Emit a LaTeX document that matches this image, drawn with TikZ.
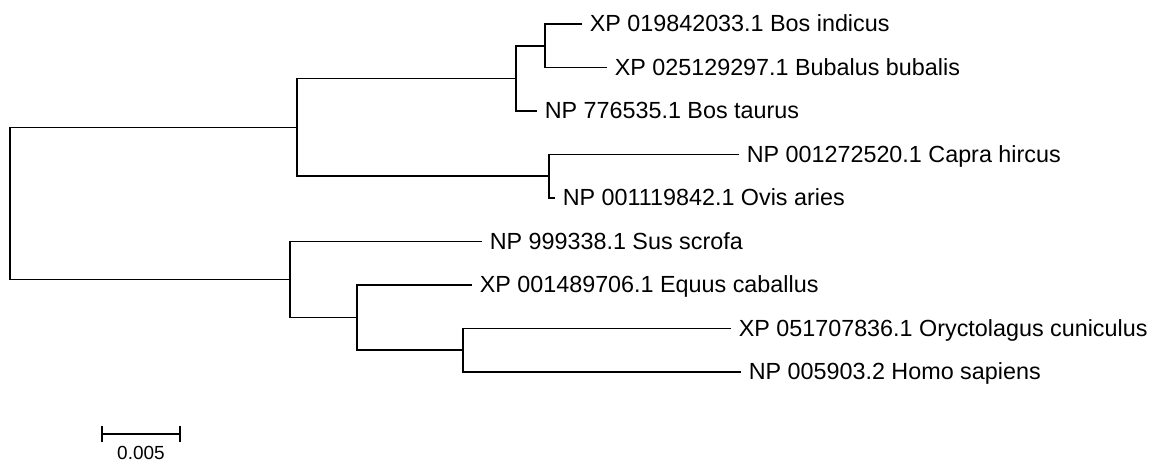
\documentclass[tikz,border=0pt]{standalone}
\usepackage{fontspec}
\setmainfont{Liberation Sans}
\usetikzlibrary{arrows.meta}

\begin{document}
\begin{tikzpicture}[x=0.025cm, y=-0.025cm, line width=1.1pt,
    taxon/.style={anchor=base west, inner sep=0pt, xshift=0.175cm, yshift=-0.19cm,
        font=\fontsize{16.6pt}{20pt}\selectfont},
    scalelabel/.style={anchor=base, inner sep=0pt, font=\fontsize{13.5pt}{16pt}\selectfont}]
    \useasboundingbox (0,0) rectangle (1160,465);
    % internal nodes
    \coordinate (root) at (10,203.5);
    \coordinate (bovini) at (297,127.3);
    \coordinate (bos) at (516,78.4);
    \coordinate (bibb) at (545,45.75);
    \coordinate (caprini) at (549,176.25);
    \coordinate (others) at (290,279.6);
    \coordinate (eoh) at (357,317.6);
    \coordinate (oh) at (463,350.25);
    % leaf tips
    \coordinate (bi) at (582,24);
    \coordinate (bb) at (607,67.5);
    \coordinate (bt) at (537,111);
    \coordinate (ch) at (739,154.5);
    \coordinate (oa) at (555,198);
    \coordinate (ss) at (482,241.5);
    \coordinate (ec) at (472,285);
    \coordinate (oc) at (731,328.5);
    \coordinate (hs) at (741,372);
    % branches
    \draw (root) |- (bovini);
    \draw (root) |- (others);
    \draw (bovini) |- (bos);
    \draw (bovini) |- (caprini);
    \draw (bos) |- (bibb);
    \draw (bos) |- (bt);
    \draw (bibb) |- (bi);
    \draw (bibb) |- (bb);
    \draw (caprini) |- (ch);
    \draw (caprini) |- (oa);
    \draw (others) |- (ss);
    \draw (others) |- (eoh);
    \draw (eoh) |- (ec);
    \draw (eoh) |- (oh);
    \draw (oh) |- (oc);
    \draw (oh) |- (hs);
    % taxa
    \node [taxon] (bilabel) at (bi) {XP 019842033.1 Bos indicus};
    \node [taxon] (bblabel) at (bb) {XP 025129297.1 Bubalus bubalis};
    \node [taxon] (btlabel) at (bt) {NP 776535.1 Bos taurus};
    \node [taxon] (chlabel) at (ch) {NP 001272520.1 Capra hircus};
    \node [taxon] (oalabel) at (oa) {NP 001119842.1 Ovis aries};
    \node [taxon] (sslabel) at (ss) {NP 999338.1 Sus scrofa};
    \node [taxon] (eclabel) at (ec) {XP 001489706.1 Equus caballus};
    \node [taxon] (oclabel) at (oc) {XP 051707836.1 Oryctolagus cuniculus};
    \node [taxon] (hslabel) at (hs) {NP 005903.2 Homo sapiens};
    % scale bar
    \coordinate (barleft) at (101,434);
    \coordinate (barright) at (181,434);
    \draw [{Bar[width=0.4cm]}-{Bar[width=0.4cm]}] (barleft) -- (barright);
    \node [scalelabel] (barlabel) at (141,460) {0.005};
\end{tikzpicture}
\end{document}
